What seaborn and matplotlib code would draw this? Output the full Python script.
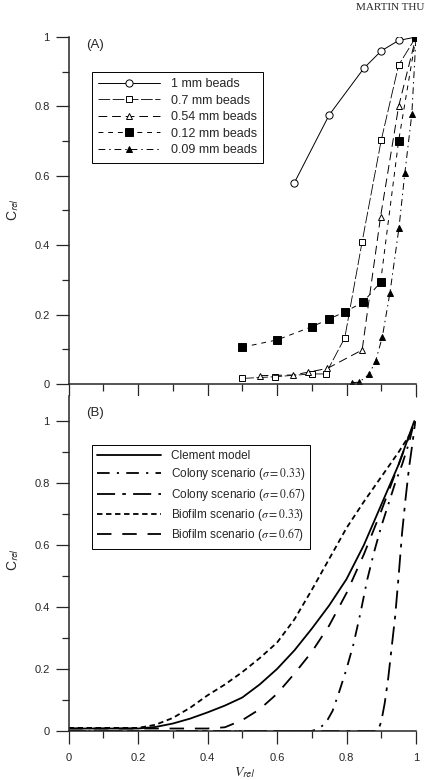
import numpy as np
import pandas as pd
import matplotlib
matplotlib.use("Agg")
import matplotlib.pyplot as plt
from matplotlib.ticker import MultipleLocator, FuncFormatter
import seaborn as sns

# ---------------- Panel A: measured breakthrough data ----------------
a_labels = ["1 mm beads", "0.7 mm beads", "0.54 mm beads", "0.12 mm beads", "0.09 mm beads"]
a1_x = [0.65, 0.75, 0.85, 0.90, 0.95, 1.0]
a1_y = [0.58, 0.775, 0.91, 0.96, 0.99, 1.0]
a2_x = [0.50, 0.595, 0.70, 0.74, 0.795, 0.845, 0.90, 0.95, 1.0]
a2_y = [0.016, 0.021, 0.029, 0.029, 0.133, 0.41, 0.703, 0.919, 1.0]
a3_x = [0.55, 0.645, 0.69, 0.745, 0.845, 0.898, 0.95, 1.0]
a3_y = [0.024, 0.026, 0.034, 0.045, 0.098, 0.482, 0.80, 1.0]
a4_x = [0.50, 0.60, 0.70, 0.75, 0.795, 0.847, 0.898, 0.95, 1.0]
a4_y = [0.106, 0.127, 0.165, 0.187, 0.208, 0.235, 0.293, 0.701, 1.0]
a5_x = [0.815, 0.836, 0.865, 0.884, 0.903, 0.925, 0.951, 0.968, 0.988, 1.0]
a5_y = [0.004, 0.005, 0.028, 0.067, 0.135, 0.263, 0.45, 0.609, 0.778, 1.0]

# ---------------- Panel B: model curves ----------------
b_labels = ["Clement model",
            r"Colony scenario ($\sigma = 0.33$)",
            r"Colony scenario ($\sigma = 0.67$)",
            r"Biofilm scenario ($\sigma = 0.33$)",
            r"Biofilm scenario ($\sigma = 0.67$)"]
b1_x = [0.0, 0.1, 0.2, 0.25, 0.3, 0.35, 0.4, 0.45, 0.5, 0.55, 0.6, 0.65, 0.7, 0.75, 0.8, 0.85, 0.9, 0.95, 0.995]
b1_y = [0.008, 0.008, 0.008, 0.013, 0.024, 0.04, 0.06, 0.082, 0.108, 0.15, 0.2, 0.26, 0.33, 0.405, 0.49, 0.6, 0.73, 0.86, 1.0]
b2_x = [0.0, 0.3, 0.5, 0.7, 0.72, 0.74, 0.76, 0.78, 0.8, 0.82, 0.84, 0.86, 0.88, 0.9, 0.92, 0.94, 0.96, 0.98, 0.995]
b2_y = [0.0, 0.0, 0.0, 0.0, 0.008, 0.025, 0.065, 0.13, 0.2, 0.28, 0.38, 0.49, 0.58, 0.66, 0.73, 0.8, 0.86, 0.93, 1.0]
b3_x = [0.0, 0.3, 0.6, 0.89, 0.9, 0.91, 0.92, 0.93, 0.94, 0.95, 0.96, 0.97, 0.98, 0.99, 0.998]
b3_y = [0.0, 0.0, 0.0, 0.0, 0.03, 0.09, 0.17, 0.27, 0.37, 0.5, 0.64, 0.75, 0.85, 0.93, 1.0]
b4_x = [0.0, 0.1, 0.2, 0.25, 0.3, 0.35, 0.4, 0.45, 0.5, 0.55, 0.6, 0.65, 0.7, 0.75, 0.8, 0.85, 0.9, 0.95, 0.99]
b4_y = [0.01, 0.01, 0.01, 0.02, 0.042, 0.075, 0.115, 0.15, 0.19, 0.235, 0.285, 0.36, 0.455, 0.555, 0.655, 0.74, 0.82, 0.9, 0.97]
b5_x = [0.0, 0.1, 0.2, 0.3, 0.4, 0.45, 0.5, 0.55, 0.6, 0.65, 0.7, 0.75, 0.8, 0.85, 0.9, 0.95, 0.99]
b5_y = [0.008, 0.008, 0.008, 0.008, 0.008, 0.012, 0.035, 0.07, 0.12, 0.185, 0.255, 0.34, 0.445, 0.57, 0.71, 0.86, 0.98]

sns.set_style("ticks")
plt.rcParams["font.family"] = ["Liberation Sans", "DejaVu Sans"]
plt.rcParams["mathtext.fontset"] = "stix"

W, H = 425, 780
fig = plt.figure(figsize=(W / 100, H / 100), dpi=100)
axA = fig.add_axes([68.5 / W, (H - 384) / H, 347.5 / W, 347 / H])
axB = fig.add_axes([68.5 / W, 49 / H, 347.5 / W, 335 / H])

# Panel A series
a_series = [(a1_x, a1_y), (a2_x, a2_y), (a3_x, a3_y), (a4_x, a4_y), (a5_x, a5_y)]
a_styles = [
    dict(linestyle="-", marker="o", markerfacecolor="white", markersize=5.2, linewidth=0.7),
    dict(linestyle=(0, (14, 3)), marker="s", markerfacecolor="white", markersize=4.8, linewidth=0.6),
    dict(linestyle=(0, (9, 5)), marker="^", markerfacecolor="white", markersize=5.0, linewidth=0.7),
    dict(linestyle=(0, (5, 5)), marker="s", markerfacecolor="black", markersize=5.2, linewidth=0.7),
    dict(linestyle=(0, (7, 4, 1.5, 4)), marker="^", markerfacecolor="black", markersize=4.6, linewidth=0.7),
]
for (xs, ys), lab, st in zip(a_series, a_labels, a_styles):
    sns.lineplot(x=xs, y=ys, ax=axA, color="black", markeredgecolor="black",
                 markeredgewidth=0.7, sort=False, estimator=None, label=lab, **st)

# Panel B series
b_series = [(b1_x, b1_y), (b2_x, b2_y), (b3_x, b3_y), (b4_x, b4_y), (b5_x, b5_y)]
b_styles = [
    dict(linestyle="-"),
    dict(linestyle=(0, (7, 4, 1.2, 4))),
    dict(linestyle=(0, (10, 4, 2, 4))),
    dict(linestyle=(0, (3, 2))),
    dict(linestyle=(0, (8, 6))),
]
for (xs, ys), lab, st in zip(b_series, b_labels, b_styles):
    sns.lineplot(x=xs, y=ys, ax=axB, color="black", linewidth=1.3,
                 sort=False, estimator=None, label=lab, **st)

fmt = FuncFormatter(lambda v, p: "%g" % round(v, 6))
for ax in (axA, axB):
    ax.set_xlim(0, 1)
    for s in ("top", "right"):
        ax.spines[s].set_visible(False)
    for s in ("left", "bottom"):
        ax.spines[s].set_linewidth(1.1)
    ax.xaxis.set_major_locator(MultipleLocator(0.2))
    ax.xaxis.set_minor_locator(MultipleLocator(0.1))
    ax.yaxis.set_major_locator(MultipleLocator(0.2))
    ax.yaxis.set_minor_locator(MultipleLocator(0.1))
    ax.tick_params(which="major", direction="out", length=9.5, width=0.9, labelsize=8, pad=4)
    ax.tick_params(which="minor", direction="out", length=5, width=0.9)
    ax.xaxis.set_major_formatter(fmt)
    ax.yaxis.set_major_formatter(fmt)
    ax.set_xlabel("")
    ax.set_ylabel("")

axA.set_ylim(0, 1)
axA.tick_params(axis="x", labelbottom=False)
axB.set_ylim(0, 1.081)
axB.set_yticks([0, 0.2, 0.4, 0.6, 0.8, 1.0])
axB.set_yticks([0.1, 0.3, 0.5, 0.7, 0.9], minor=True)
axB.tick_params(axis="x", pad=6)

legA = axA.legend(loc="upper left", bbox_to_anchor=(92 / W, 1 - 72 / H),
                  bbox_transform=fig.transFigure, borderaxespad=0, fontsize=9,
                  handlelength=4.9, handletextpad=0.9, borderpad=0.5, labelspacing=0.36,
                  numpoints=1, fancybox=False, framealpha=1, edgecolor="black")
legA.get_frame().set_linewidth(0.7)
legB = axB.legend(loc="upper left", bbox_to_anchor=(92 / W, 1 - 445 / H),
                  bbox_transform=fig.transFigure, borderaxespad=0, fontsize=8.5,
                  handlelength=5.4, handletextpad=0.8, borderpad=0.45, labelspacing=0.32,
                  fancybox=False, framealpha=1, edgecolor="black")
legB.get_frame().set_linewidth(0.7)

fig.text(86 / W, 1 - 45 / H, "(A)", fontsize=9.5, va="center", ha="left")
fig.text(86 / W, 1 - 413 / H, "(B)", fontsize=9.5, va="center", ha="left")
fig.text(13 / W, 1 - 210 / H, r"C$_{\mathsf{rel}}$", fontsize=10, rotation=90, va="center", ha="center")
fig.text(13 / W, 1 - 560 / H, r"C$_{\mathsf{rel}}$", fontsize=10, rotation=90, va="center", ha="center")
fig.text(245 / W, 1 - 765 / H, r"$V_{\mathsf{rel}}$", fontsize=10, va="top", ha="center")
fig.text(356 / W, 1 - 8 / H, "MARTIN THU", family="Liberation Serif", fontsize=8, va="center", ha="left")

fig.savefig("out.png", dpi=100)
